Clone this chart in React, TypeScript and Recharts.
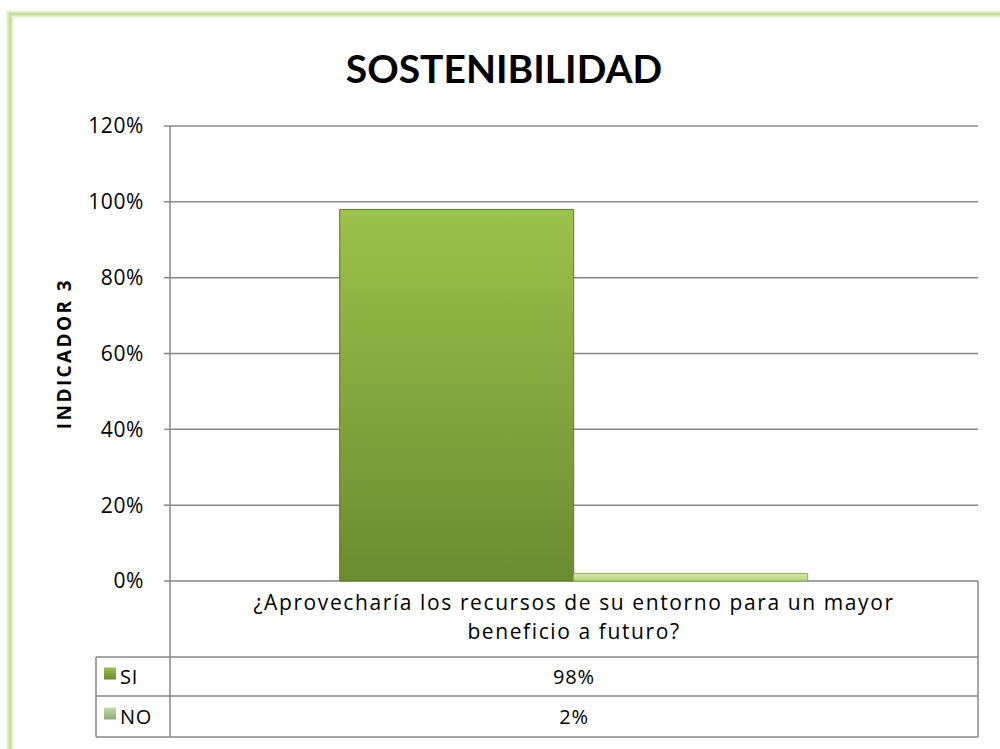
import React from 'react';
import { BarChart, Bar, XAxis, YAxis, CartesianGrid, Customized } from 'recharts';

const categories = ['¿Aprovecharía los recursos de su entorno para un mayor beneficio a futuro?'];
const categoryLines = ['¿Aprovecharía los recursos de su entorno para un mayor', 'beneficio a futuro?'];
const siValues = [0.98];
const noValues = [0.02];
const yTicks = [0, 0.2, 0.4, 0.6, 0.8, 1.0, 1.2];
const seriesNames = ['SI', 'NO'];

const data = categories.map((c, i) => ({ name: c, SI: siValues[i], NO: noValues[i] }));

const W = 1000;
const H = 749;
const PLOT = { left: 170, right: 978, top: 126, bottom: 581 };
const FONT = '"Open Sans", Lato, sans-serif';
const GRID = '#878787';

const pct = (v: number) => `${Math.round(v * 100)}%`;

function Frame() {
  return (
    <g>
      <rect x={10} y={14} width={1000} height={760} fill="none" stroke="#e4f2cf" strokeWidth={7} />
      <rect x={10} y={14} width={1000} height={760} fill="none" stroke="#c5e09a" strokeWidth={3} />
    </g>
  );
}

function DataTable() {
  const rowTop = 657;
  const rowMid = 696;
  const rowBot = 737;
  const leftCol = 96;
  const cx = (PLOT.left + PLOT.right) / 2;
  const txt = { fontFamily: FONT, fontSize: 20, fill: '#000', letterSpacing: 0.8 };
  return (
    <g>
      <line x1={PLOT.left} y1={PLOT.bottom} x2={PLOT.left} y2={rowBot} stroke={GRID} strokeWidth={1.5} />
      <line x1={PLOT.right} y1={PLOT.bottom} x2={PLOT.right} y2={rowBot} stroke={GRID} strokeWidth={1.5} />
      <line x1={leftCol} y1={rowTop} x2={leftCol} y2={rowBot} stroke={GRID} strokeWidth={1.5} />
      {[rowTop, rowMid, rowBot].map((y) => (
        <line key={y} x1={leftCol} y1={y} x2={PLOT.right} y2={y} stroke={GRID} strokeWidth={1.5} />
      ))}
      {categoryLines.map((l, i) => (
        <text key={i} x={cx} y={610 + i * 29} textAnchor="middle" {...txt} fontSize={21} letterSpacing={1.6}>{l}</text>
      ))}
      {seriesNames.map((s, i) => {
        const y0 = i === 0 ? rowTop : rowMid;
        const y1 = i === 0 ? rowMid : rowBot;
        const ym = (y0 + y1) / 2;
        const vals = i === 0 ? siValues : noValues;
        return (
          <g key={s}>
            <rect x={104} y={ym - 9} width={12} height={12} fill={i === 0 ? 'url(#siGrad)' : 'url(#noLeg)'} />
            <text x={120} y={ym + 7} {...txt}>{s}</text>
            <text x={cx} y={ym + 7} textAnchor="middle" {...txt}>{pct(vals[0])}</text>
          </g>
        );
      })}
    </g>
  );
}

export default function App() {
  return (
    <div style={{ position: 'absolute', left: 0, top: 0, width: W, height: H, background: '#fff' }}>
      <BarChart
        width={W}
        height={H}
        data={data}
        margin={{ top: PLOT.top, right: W - PLOT.right, bottom: H - PLOT.bottom, left: PLOT.left - 60 }}
        barCategoryGap="21%"
        barGap={0}
      >
        <defs>
          <linearGradient id="siGrad" x1="0" y1="0" x2="0" y2="1">
            <stop offset="0%" stopColor="#9bc24b" />
            <stop offset="100%" stopColor="#6b8b31" />
          </linearGradient>
          <linearGradient id="noGrad" x1="0" y1="0" x2="0" y2="1">
            <stop offset="0%" stopColor="#d6eab0" />
            <stop offset="100%" stopColor="#b3d27c" />
          </linearGradient>
          <linearGradient id="noLeg" x1="0" y1="0" x2="0" y2="1">
            <stop offset="0%" stopColor="#c6dcaa" />
            <stop offset="100%" stopColor="#8fa774" />
          </linearGradient>
        </defs>
        <Customized component={Frame} />
        <text x={504} y={83} textAnchor="middle" style={{ fontFamily: 'Lato, sans-serif', fontSize: 39, fontWeight: 700 }} fill="#000">
          SOSTENIBILIDAD
        </text>
        <CartesianGrid vertical={false} horizontal stroke={GRID} strokeWidth={1.5} />
        <XAxis dataKey="name" hide />
        <YAxis
          width={60}
          domain={[0, 1.2]}
          ticks={yTicks}
          tickFormatter={pct}
          axisLine={{ stroke: GRID, strokeWidth: 1.5 }}
          tickLine={{ stroke: GRID, strokeWidth: 1.5 }}
          tickSize={6}
          tickMargin={20}
          tick={{ fontFamily: FONT, fontSize: 21, fill: '#000', letterSpacing: 0.6 }}
          label={{
            value: 'INDICADOR  3',
            angle: -90,
            position: 'insideLeft',
            offset: 0,
            dx: -46,
            style: { fontFamily: FONT, fontSize: 19, fontWeight: 700, fill: '#000', textAnchor: 'middle', letterSpacing: 2.4, whiteSpace: 'pre' },
          }}
        />
        <Bar dataKey="SI" fill="url(#siGrad)" stroke="#5e7c28" strokeWidth={1} isAnimationActive={false} />
        <Bar dataKey="NO" fill="url(#noGrad)" stroke="#8aad55" strokeWidth={1} isAnimationActive={false} />
        <Customized component={DataTable} />
      </BarChart>
    </div>
  );
}
